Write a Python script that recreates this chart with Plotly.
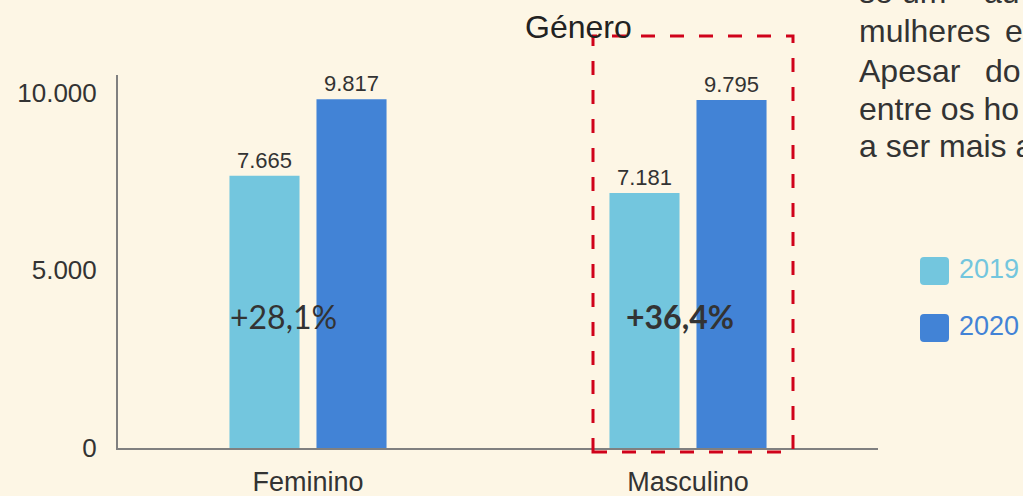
import plotly.graph_objects as go

categories = ["Feminino", "Masculino"]
values_2019 = [7665, 7181]
values_2020 = [9817, 9795]
growth_labels = ["+28,1%", "<b>+36,4%</b>"]
series_names = ["2019", "2020"]
y_ticks = [0, 5000, 10000]

C19 = "#73C6DE"
C20 = "#4283D6"
BG = "#FDF6E5"
TXT = "#333333"

fig = go.Figure()
for name, vals, col in [(series_names[0], values_2019, C19), (series_names[1], values_2020, C20)]:
    fig.add_trace(go.Bar(
        x=categories, y=vals, name=name, marker=dict(color=col, line=dict(width=0)),
        texttemplate="%{y:,.0f}", textposition="outside",
        textfont=dict(family="Liberation Sans", size=22, color=TXT),
        cliponaxis=False, showlegend=False,
    ))

W, H = 1023, 496
L, R, T, B = 118, 145, 75, 48
pw, ph = W - L - R, H - T - B

def px(x):
    return (x - L) / pw

def py(y):
    return (H - B - y) / ph

annotations = []
# growth labels
for cat, lab, shift in zip(categories, growth_labels, [-25, -8]):
    annotations.append(dict(x=cat, y=3700, xref="x", yref="y", text=lab, showarrow=False,
                            xshift=shift, xanchor="center", yanchor="middle",
                            font=dict(family="Lato", size=32, color=TXT)))
# title
annotations.append(dict(x=px(578), y=py(27), xref="paper", yref="paper", text="Género",
                        showarrow=False, xanchor="center", yanchor="middle",
                        font=dict(family="Liberation Sans", size=32, color="#222222")))
# right paragraph (cut off)
words = [
    ("se", 857, 3), ("um", 900, 3), ("au", 982, 3),
    ("mulheres", 857, 41.7), ("e", 1003, 41.7),
    ("Apesar", 857, 81.7), ("do", 983, 81.7),
    ("entre os ho", 857, 120), ("a ser mais a", 857, 157),
]
for w, x, base in words:
    annotations.append(dict(x=px(x), y=py(base - 11), xref="paper", yref="paper", text=w,
                            showarrow=False, xanchor="left", yanchor="middle",
                            font=dict(family="Liberation Sans", size=32, color=TXT)))
# legend labels
for name, col, cy in [(series_names[0], C19, 268.5), (series_names[1], C20, 326)]:
    annotations.append(dict(x=px(957), y=py(cy), xref="paper", yref="paper", text=name,
                            showarrow=False, xanchor="left", yanchor="middle",
                            font=dict(family="Liberation Sans", size=27, color=col)))

shapes = []
# dashed box
shapes.append(dict(type="rect", xref="paper", yref="paper", x0=px(593), x1=px(793),
                   y0=py(452), y1=py(36), line=dict(color="#D0021B", width=3, dash="14px,15px"),
                   fillcolor="rgba(0,0,0,0)", layer="above"))
# legend squares (rounded)
def rounded(x0, y0, x1, y1, r=4):
    X0, X1 = px(x0), px(x1)
    Y0, Y1 = py(y1), py(y0)
    rx, ry = r / pw, r / ph
    return (f"M {X0+rx},{Y0} L {X1-rx},{Y0} Q {X1},{Y0} {X1},{Y0+ry} L {X1},{Y1-ry} "
            f"Q {X1},{Y1} {X1-rx},{Y1} L {X0+rx},{Y1} Q {X0},{Y1} {X0},{Y1-ry} "
            f"L {X0},{Y0+ry} Q {X0},{Y0} {X0+rx},{Y0} Z")
for col, y0 in [(C19, 257), (C20, 314)]:
    shapes.append(dict(type="path", xref="paper", yref="paper", path=rounded(920, y0, 949, y0 + 28),
                       fillcolor=col, line=dict(width=0)))

fig.update_layout(
    width=W, height=H,
    margin=dict(l=L, r=R, t=T, b=B, pad=0, autoexpand=False),
    paper_bgcolor=BG, plot_bgcolor=BG,
    separators=",.",
    barmode="group", bargap=0.542, bargroupgap=0.195,
    showlegend=False,
    annotations=annotations, shapes=shapes,
    xaxis=dict(showline=True, linecolor="#808080", linewidth=2, showgrid=False, ticks="",
               tickfont=dict(family="Liberation Sans", size=27, color=TXT),
               ticklabelstandoff=9, zeroline=False, automargin=False),
    yaxis=dict(range=[0, 10500], tickvals=y_ticks, tickformat=",.0f", showline=True,
               linecolor="#808080", linewidth=2, showgrid=False, ticks="", zeroline=False,
               tickfont=dict(family="Liberation Sans", size=26, color=TXT),
               ticklabelstandoff=14, automargin=False),
)

fig.write_html("out.html", config={"displayModeBar": False},
               post_script="document.body.style.margin='0';document.body.style.overflow='hidden';")
